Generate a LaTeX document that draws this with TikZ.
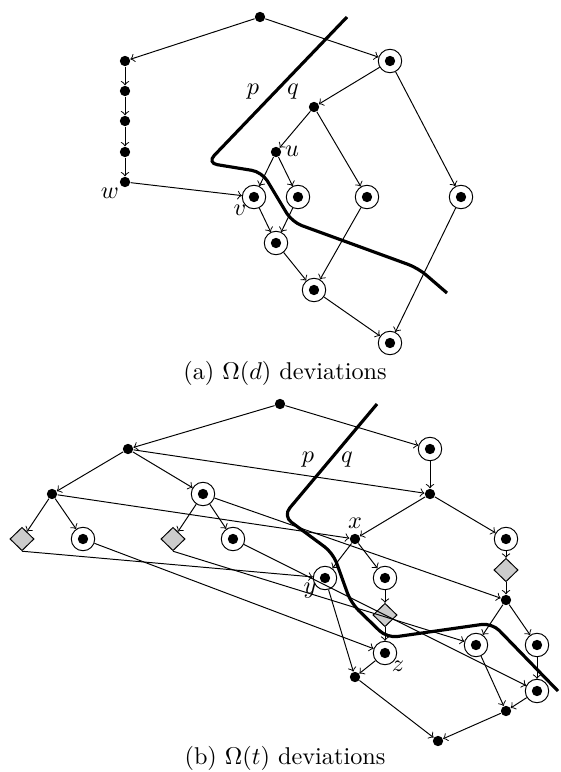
\documentclass[tikz,border=0pt]{standalone}
\usepackage{amsmath}
\usepackage{amssymb}
\usetikzlibrary{arrows}
\usetikzlibrary{shapes.geometric}
\tikzset{dot/.style = {circle, fill = black, inner sep = 0pt, minimum size = 0.15cm},
         ring/.style = {circle, draw, inner sep = 0pt, minimum size = 0.34cm,
                        path picture = {\fill (path picture bounding box.center) circle (0.075cm);}},
         gem/.style = {diamond, draw, fill = black!20, inner sep = 0pt,
                       minimum width = 0.35cm, minimum height = 0.34cm},
         cut/.style = {line width = 1.3pt, rounded corners = 0.15cm}}

\begin{document}
\begin{tikzpicture}[x = 0.0145cm, y = -0.0145cm]
    \useasboundingbox (0, 0) rectangle (560, 772);
    % (a)
    \node [dot] (a0) at (260, 17) {};
    \node [dot] (w1) at (125, 61) {};
    \node [dot] (w2) at (125, 91) {};
    \node [dot] (w3) at (125, 121) {};
    \node [dot] (w4) at (125, 152) {};
    \node [dot] (w) at (125, 182) {};
    \node [ring] (r1) at (390, 61) {};
    \node [dot] (n1) at (314, 107) {};
    \node [dot] (u) at (276, 152) {};
    \node [ring] (v) at (254, 197) {};
    \node [ring] (c2) at (298, 197) {};
    \node [ring] (c3) at (367, 197) {};
    \node [ring] (c4) at (461, 197) {};
    \node [ring] (d1) at (276, 243) {};
    \node [ring] (e1) at (314, 290) {};
    \node [ring] (f1) at (390, 343) {};
    \draw [->] (a0) -- (w1);
    \draw [->] (a0) -- (r1);
    \draw [->] (w1) -- (w2);
    \draw [->] (w2) -- (w3);
    \draw [->] (w3) -- (w4);
    \draw [->] (w4) -- (w);
    \draw [->] (w) -- (v);
    \draw [->] (r1) -- (n1);
    \draw [->] (r1) -- (c4);
    \draw [->] (n1) -- (u);
    \draw [->] (n1) -- (c3);
    \draw [->] (u) -- (v);
    \draw [->] (u) -- (c2);
    \draw [->] (v) -- (d1);
    \draw [->] (c2) -- (d1);
    \draw [->] (d1) -- (e1);
    \draw [->] (c3) -- (e1);
    \draw [->] (e1) -- (f1);
    \draw [->] (c4) -- (f1);
    \draw [cut] (347, 17) -- (207, 163) -- (262, 172) -- (292, 222) -- (418, 268) -- (447, 293);
    \node (pa) at (253, 92) {$p$};
    \node (qa) at (293, 92) {$q$};
    \node (lu) at (292, 151) {$u$};
    \node (lv) at (240, 210) {$v$};
    \node (lw) at (110, 193) {$w$};
    \node (capa) at (285, 373) {(a) $\Omega(d)$ deviations};
    % (b)
    \node [dot] (b0) at (280, 404) {};
    \node [ring] (rb) at (430, 449) {};
    \node [dot] (l1) at (128, 449) {};
    \node [dot] (nb) at (430, 494) {};
    \node [dot] (l2) at (52, 494) {};
    \node [ring] (m2) at (203, 494) {};
    \node [dot] (x) at (355, 539) {};
    \node [ring] (rc) at (506, 539) {};
    \node [gem] (dd1) at (22, 539) {};
    \node [ring] (cc1) at (83, 539) {};
    \node [gem] (dd2) at (173, 539) {};
    \node [ring] (cc2) at (233, 539) {};
    \node [ring] (y) at (325, 578) {};
    \node [ring] (cx) at (385, 578) {};
    \node [gem] (rd) at (506, 570) {};
    \node [gem] (dm) at (385, 615) {};
    \node [dot] (re) at (506, 600) {};
    \node [ring] (z) at (385, 653) {};
    \node [ring] (g1) at (476, 645) {};
    \node [ring] (g2) at (537, 645) {};
    \node [dot] (h) at (355, 677) {};
    \node [ring] (j) at (537, 691) {};
    \node [dot] (k) at (506, 711) {};
    \node [dot] (bt) at (438, 741) {};
    \draw [->] (b0) -- (l1);
    \draw [->] (b0) -- (rb);
    \draw [->] (rb) -- (nb);
    \draw [->] (l1) -- (l2);
    \draw [->] (l1) -- (m2);
    \draw [->] (l1) -- (nb);
    \draw [->] (nb) -- (x);
    \draw [->] (nb) -- (rc);
    \draw [->] (l2) -- (dd1);
    \draw [->] (l2) -- (cc1);
    \draw [->] (l2) -- (x);
    \draw [->] (m2) -- (dd2);
    \draw [->] (m2) -- (cc2);
    \draw [->] (m2) -- (re);
    \draw [->] (rc) -- (rd);
    \draw [->] (rd) -- (re);
    \draw [->] (x) -- (y);
    \draw [->] (x) -- (cx);
    \draw [->] (dd1.south) -- (y);
    \draw [->] (cc1) -- (z);
    \draw [->] (dd2.south) -- (g1);
    \draw [->] (cc2) -- (j);
    \draw [->] (cx) -- (dm);
    \draw [->] (dm) -- (z);
    \draw [->] (re) -- (g1);
    \draw [->] (re) -- (g2);
    \draw [->] (y) -- (h);
    \draw [->] (z) -- (h);
    \draw [->] (g1) -- (k);
    \draw [->] (g2) -- (j);
    \draw [->] (j) -- (k);
    \draw [->] (h) -- (bt);
    \draw [->] (k) -- (bt);
    \draw [cut] (377, 404) -- (283, 516) -- (333, 553) -- (351, 603) -- (387, 638) -- (492, 623) -- (558, 691);
    \node (pb) at (308, 460) {$p$};
    \node (qb) at (347, 460) {$q$};
    \node (lx) at (355, 523) {$x$};
    \node (ly) at (310, 591) {$y$};
    \node (lz) at (398, 666) {$z$};
    \node (capb) at (285, 758) {(b) $\Omega(t)$ deviations};
  \end{tikzpicture}
\end{document}
